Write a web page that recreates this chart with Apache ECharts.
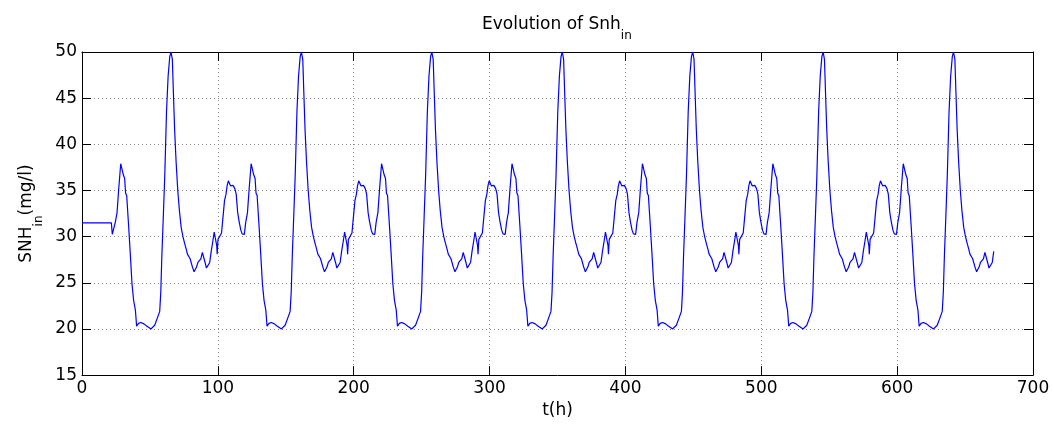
<!DOCTYPE html>
<html><head><meta charset="utf-8">
<script src="https://cdn.jsdelivr.net/npm/echarts@6/dist/echarts.min.js"></script>
<style>html,body{margin:0;padding:0;background:#fff}#c{width:1054px;height:424px}</style>
</head><body><div id="c"></div>
<script>
// Initial constant segment (h, mg/l)
const initialT = [0, 21.6];
const initialV = [31.5, 31.5];
// One repeating daily-pattern cycle (first occurrence, h)
const cycleT = [22.3,23.5,24.5,25.8,27.0,28.5,29.4,30.4,31.4,32.1,32.9,33.4,34.3,35.6,36.8,38.0,39.3,40.2,41.6,43.3,45.6,47.8,49.2,50.8,52.0,53.5,55.5,57.2,58.0,58.8,59.8,60.9,62.2,63.4,64.6,65.5,66.5,67.3,68.2,69.3,70.5,71.7,73.0,74.3,75.5,76.8,77.6,78.6,79.6,80.4,81.3,82.5,83.4,84.3,85.3,86.5,87.5,88.6,89.6,90.6,91.6,93.0,94.0,95.1,96.3,97.3,98.5,99.2,99.5,100.1,101.5,102.7,103.9,104.9,106.0,106.8,107.7,108.6,109.3,110.0,111.2,112.5,113.5,114.6,115.7,116.9,117.9];
const cycleV = [30.25,30.25,31.55,32.6,35.1,37.9,37.9,36.7,36.3,34.7,34.45,34.6,31.2,28.0,24.9,23.1,22.05,20.3,20.6,20.7,20.55,20.3,20.1,20.0,20.0,20.4,21.2,21.9,24.0,28.0,32.0,36.5,43.5,47.4,49.5,50.0,49.2,45.5,41.5,38.0,35.0,32.8,31.0,30.0,29.3,28.6,28.1,28.1,27.6,27.4,26.7,26.2,26.3,26.7,27.2,27.2,27.6,28.3,28.1,27.2,26.6,26.6,27.2,28.4,29.5,30.5,30.5,29.0,28.1,29.7,29.9,30.4,32.3,33.9,34.6,35.5,36.05,35.9,35.5,35.6,35.55,35.2,34.6,32.6,31.6,30.7,30.3];
// Start offsets of each repetition of the cycle (h) and end of record
const cycleOffsets = [0, 96, 192, 288, 384, 480, 576];
const endT = 671.5;
// Axis ranges / ticks
const xRange = [0, 700], xStep = 100;
const yRange = [15, 50], yStep = 5;

const data = [];
for (let i = 0; i < initialT.length; i++) data.push([initialT[i], initialV[i]]);
for (const off of cycleOffsets) {
  for (let i = 0; i < cycleT.length; i++) {
    const t = cycleT[i] + off;
    if (t <= endT) data.push([t, cycleV[i]]);
  }
}

const FONT = 'DejaVu Sans';
const axisCommon = {
  type: 'value',
  axisLine: { show: true, onZero: false, lineStyle: { color: '#000', width: 1 } },
  axisTick: { show: true, inside: true, length: 9, lineStyle: { color: '#000' } },
  axisLabel: { show: true, color: '#000', fontFamily: FONT, fontSize: 17, margin: 5 },
  splitLine: { show: true, lineStyle: { color: '#8a8a8a', width: 1, type: [1, 3] } }
};
const sub = {
  a: { fontFamily: FONT, fontSize: 17, fontWeight: 'normal', color: '#000', lineHeight: 20, verticalAlign: 'top' },
  s: { fontFamily: FONT, fontSize: 12, fontWeight: 'normal', color: '#000', lineHeight: 12, padding: [14, 0, 0, 0], verticalAlign: 'top' }
};

const chart = echarts.init(document.getElementById('c'), null, { renderer: 'canvas' });
chart.setOption({
  animation: false,
  backgroundColor: '#fff',
  title: {
    text: '{a|Evolution of Snh}{s|in}',
    left: 482, top: 16, padding: 0,
    textStyle: { fontWeight: 'normal', fontFamily: FONT, fontSize: 17, rich: sub }
  },
  grid: { left: 82, right: 21, top: 52, bottom: 41, containLabel: false },
  xAxis: [
    Object.assign({}, axisCommon, {
      min: xRange[0], max: xRange[1], interval: xStep, position: 'bottom',
      name: 't(h)', nameLocation: 'middle', nameGap: 19,
      nameTextStyle: { fontFamily: FONT, fontSize: 17, color: '#000' }
    }),
    Object.assign({}, axisCommon, {
      min: xRange[0], max: xRange[1], interval: xStep, position: 'top',
      axisLabel: { show: false }, splitLine: { show: false }
    })
  ],
  yAxis: [
    Object.assign({}, axisCommon, {
      min: yRange[0], max: yRange[1], interval: yStep, position: 'left',
      name: '{a|SNH}{s|in}{a|(mg/l)}', nameLocation: 'middle', nameGap: 42, nameRotate: 90,
      nameTextStyle: { rich: sub }
    }),
    Object.assign({}, axisCommon, {
      min: yRange[0], max: yRange[1], interval: yStep, position: 'right',
      axisLabel: { show: false }, splitLine: { show: false }
    })
  ],
  series: [{
    type: 'line', data: data, xAxisIndex: 0, yAxisIndex: 0,
    showSymbol: false, symbol: 'none',
    lineStyle: { color: '#0000ff', width: 1.2 },
    itemStyle: { color: '#0000ff' }
  }]
});
</script></body></html>
